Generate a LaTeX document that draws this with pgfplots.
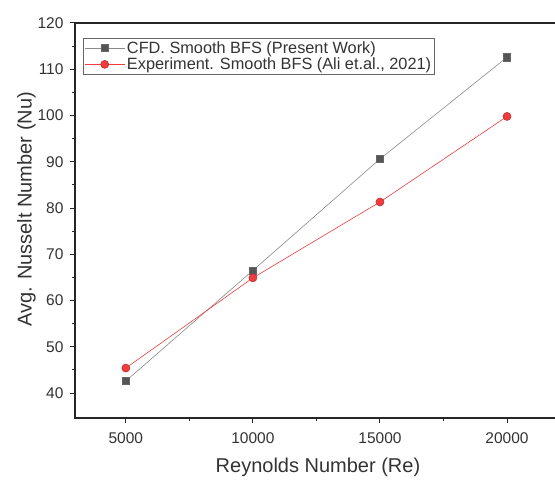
\documentclass[border=0pt]{standalone}
\usepackage{fontspec}
\setmainfont{Liberation Sans}
\usepackage{pgfplots}
\pgfplotsset{compat=1.18}

\definecolor{txt}{HTML}{333333}
\definecolor{cfdline}{HTML}{8A8A8A}
\definecolor{cfdmark}{HTML}{555555}
\definecolor{expred}{HTML}{F03C3C}

\begin{document}
\begin{tikzpicture}
\begin{axis}[
    scale only axis,
    width=486pt, height=395pt,
    xmin=3000, xmax=22125,
    ymin=34.6, ymax=120,
    xtick={5000,10000,15000,20000},
    ytick={40,50,...,120},
    minor x tick num=1,
    minor y tick num=1,
    xtick pos=bottom, ytick pos=left,
    tick align=outside,
    major tick length=5pt, minor tick length=3pt,
    every tick/.style={line width=1pt, color=black!85},
    axis line style={line width=1.3pt, color=black!85},
    scaled ticks=false,
    /pgf/number format/1000 sep={},
    /pgf/number format/assume math mode=true,
    tick label style={font=\fontsize{15.5}{18}\selectfont, text=txt},
    xticklabel style={yshift=-6pt},
    yticklabel style={xshift=-3pt},
    label style={font=\fontsize{20}{24}\selectfont, text=txt},
    xlabel={Reynolds Number (Re)},
    ylabel={Avg. Nusselt Number (Nu)},
    xlabel style={yshift=-8pt},
    ylabel style={at={(ticklabel cs:0.528)}, yshift=-5pt},
    legend style={anchor=north west, at={(rel axis cs:0,1)},
        xshift=8pt, yshift=-15pt,
        draw=black!60, line width=0.8pt,
        font=\fontsize{16.3}{19}\selectfont, text=txt,
        inner sep=1pt, row sep=-1pt},
    legend cell align=left,
    legend image code/.code={
        \draw[#1, mark repeat=2, mark phase=2]
            plot coordinates {(-2pt,0pt) (18pt,0pt) (38pt,0pt)};
    },
]
\addplot[color=cfdline, line width=0.6pt, mark=square*,
    mark size=3.6pt, mark options={fill=cfdmark, draw=black!60, line width=0.6pt}]
    coordinates {
    (5000,42.6)
    (10000,66.5)
    (15000,90.6)
    (20000,112.6)
};
\addlegendentry{CFD. Smooth BFS (Present Work)}
\addplot[color=expred, line width=0.6pt, mark=*,
    mark size=4pt, mark options={fill=expred, draw=expred!80!black, line width=0.6pt}]
    coordinates {
    (5000,45.4)
    (10000,64.9)
    (15000,81.3)
    (20000,99.8)
};
\addlegendentry{Experiment. Smooth BFS (Ali et.al., 2021)}
\coordinate (bl) at (rel axis cs:0,0);
\coordinate (tr) at (rel axis cs:1,1);
\end{axis}
\pgfresetboundingbox
\useasboundingbox ([shift={(-75pt,-61pt)}]bl) rectangle ([shift={(-6pt,23pt)}]tr);
\end{tikzpicture}
\end{document}
